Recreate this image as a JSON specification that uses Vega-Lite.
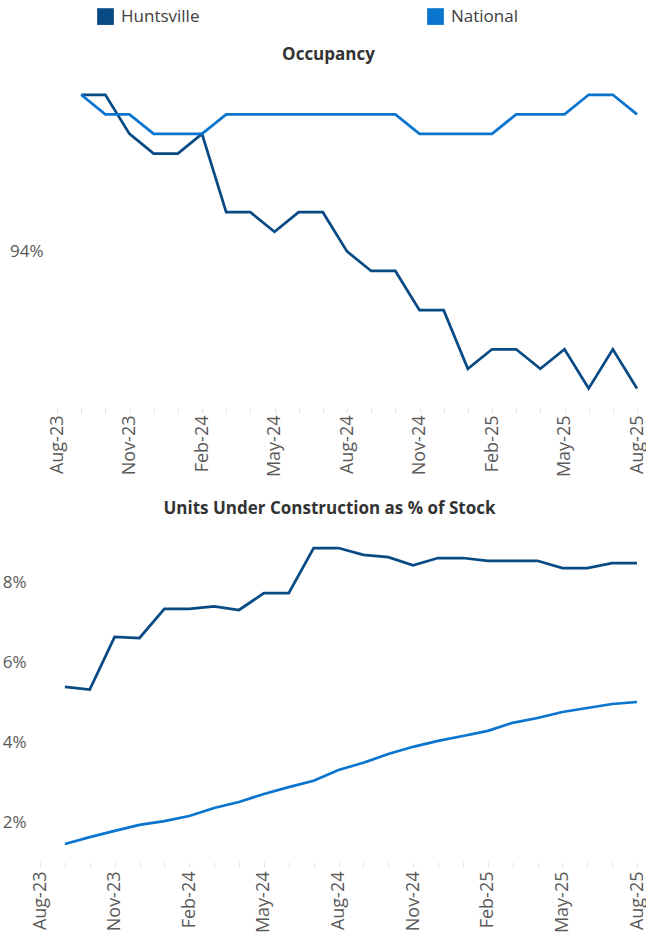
{
  "$schema": "https://vega.github.io/schema/vega-lite/v6.json",
  "background": "white",
  "padding": {"left": 2, "top": 8, "right": 0, "bottom": 0},
  "bounds": "flush",
  "spacing": 134,
  "config": {
    "font": "Open Sans",
    "view": {"stroke": null},
    "axis": {"grid": false, "domain": false, "labelFont": "Open Sans", "labelFontSize": 17, "labelColor": "#595959"},
    "title": {"font": "Open Sans", "fontSize": 17, "fontWeight": "bold", "color": "#333333"}
  },
  "datasets": {
    "occ": [
      {"month": "Sep-23", "market": "Huntsville", "value": 94.8},
      {"month": "Oct-23", "market": "Huntsville", "value": 94.8},
      {"month": "Nov-23", "market": "Huntsville", "value": 94.6},
      {"month": "Dec-23", "market": "Huntsville", "value": 94.5},
      {"month": "Jan-24", "market": "Huntsville", "value": 94.5},
      {"month": "Feb-24", "market": "Huntsville", "value": 94.6},
      {"month": "Mar-24", "market": "Huntsville", "value": 94.2},
      {"month": "Apr-24", "market": "Huntsville", "value": 94.2},
      {"month": "May-24", "market": "Huntsville", "value": 94.1},
      {"month": "Jun-24", "market": "Huntsville", "value": 94.2},
      {"month": "Jul-24", "market": "Huntsville", "value": 94.2},
      {"month": "Aug-24", "market": "Huntsville", "value": 94.0},
      {"month": "Sep-24", "market": "Huntsville", "value": 93.9},
      {"month": "Oct-24", "market": "Huntsville", "value": 93.9},
      {"month": "Nov-24", "market": "Huntsville", "value": 93.7},
      {"month": "Dec-24", "market": "Huntsville", "value": 93.7},
      {"month": "Jan-25", "market": "Huntsville", "value": 93.4},
      {"month": "Feb-25", "market": "Huntsville", "value": 93.5},
      {"month": "Mar-25", "market": "Huntsville", "value": 93.5},
      {"month": "Apr-25", "market": "Huntsville", "value": 93.4},
      {"month": "May-25", "market": "Huntsville", "value": 93.5},
      {"month": "Jun-25", "market": "Huntsville", "value": 93.3},
      {"month": "Jul-25", "market": "Huntsville", "value": 93.5},
      {"month": "Aug-25", "market": "Huntsville", "value": 93.3},
      {"month": "Sep-23", "market": "National", "value": 94.8},
      {"month": "Oct-23", "market": "National", "value": 94.7},
      {"month": "Nov-23", "market": "National", "value": 94.7},
      {"month": "Dec-23", "market": "National", "value": 94.6},
      {"month": "Jan-24", "market": "National", "value": 94.6},
      {"month": "Feb-24", "market": "National", "value": 94.6},
      {"month": "Mar-24", "market": "National", "value": 94.7},
      {"month": "Apr-24", "market": "National", "value": 94.7},
      {"month": "May-24", "market": "National", "value": 94.7},
      {"month": "Jun-24", "market": "National", "value": 94.7},
      {"month": "Jul-24", "market": "National", "value": 94.7},
      {"month": "Aug-24", "market": "National", "value": 94.7},
      {"month": "Sep-24", "market": "National", "value": 94.7},
      {"month": "Oct-24", "market": "National", "value": 94.7},
      {"month": "Nov-24", "market": "National", "value": 94.6},
      {"month": "Dec-24", "market": "National", "value": 94.6},
      {"month": "Jan-25", "market": "National", "value": 94.6},
      {"month": "Feb-25", "market": "National", "value": 94.6},
      {"month": "Mar-25", "market": "National", "value": 94.7},
      {"month": "Apr-25", "market": "National", "value": 94.7},
      {"month": "May-25", "market": "National", "value": 94.7},
      {"month": "Jun-25", "market": "National", "value": 94.8},
      {"month": "Jul-25", "market": "National", "value": 94.8},
      {"month": "Aug-25", "market": "National", "value": 94.7}
    ],
    "uc": [
      {"month": "Sep-23", "market": "Huntsville", "value": 5.38},
      {"month": "Oct-23", "market": "Huntsville", "value": 5.31},
      {"month": "Nov-23", "market": "Huntsville", "value": 6.63},
      {"month": "Dec-23", "market": "Huntsville", "value": 6.6},
      {"month": "Jan-24", "market": "Huntsville", "value": 7.33},
      {"month": "Feb-24", "market": "Huntsville", "value": 7.33},
      {"month": "Mar-24", "market": "Huntsville", "value": 7.39},
      {"month": "Apr-24", "market": "Huntsville", "value": 7.3},
      {"month": "May-24", "market": "Huntsville", "value": 7.72},
      {"month": "Jun-24", "market": "Huntsville", "value": 7.72},
      {"month": "Jul-24", "market": "Huntsville", "value": 8.85},
      {"month": "Aug-24", "market": "Huntsville", "value": 8.85},
      {"month": "Sep-24", "market": "Huntsville", "value": 8.68},
      {"month": "Oct-24", "market": "Huntsville", "value": 8.62},
      {"month": "Nov-24", "market": "Huntsville", "value": 8.42},
      {"month": "Dec-24", "market": "Huntsville", "value": 8.6},
      {"month": "Jan-25", "market": "Huntsville", "value": 8.6},
      {"month": "Feb-25", "market": "Huntsville", "value": 8.53},
      {"month": "Mar-25", "market": "Huntsville", "value": 8.53},
      {"month": "Apr-25", "market": "Huntsville", "value": 8.53},
      {"month": "May-25", "market": "Huntsville", "value": 8.35},
      {"month": "Jun-25", "market": "Huntsville", "value": 8.35},
      {"month": "Jul-25", "market": "Huntsville", "value": 8.47},
      {"month": "Aug-25", "market": "Huntsville", "value": 8.47},
      {"month": "Sep-23", "market": "National", "value": 1.45},
      {"month": "Oct-23", "market": "National", "value": 1.62},
      {"month": "Nov-23", "market": "National", "value": 1.78},
      {"month": "Dec-23", "market": "National", "value": 1.93},
      {"month": "Jan-24", "market": "National", "value": 2.02},
      {"month": "Feb-24", "market": "National", "value": 2.15},
      {"month": "Mar-24", "market": "National", "value": 2.35},
      {"month": "Apr-24", "market": "National", "value": 2.5},
      {"month": "May-24", "market": "National", "value": 2.7},
      {"month": "Jun-24", "market": "National", "value": 2.87},
      {"month": "Jul-24", "market": "National", "value": 3.03},
      {"month": "Aug-24", "market": "National", "value": 3.3},
      {"month": "Sep-24", "market": "National", "value": 3.48},
      {"month": "Oct-24", "market": "National", "value": 3.7},
      {"month": "Nov-24", "market": "National", "value": 3.88},
      {"month": "Dec-24", "market": "National", "value": 4.03},
      {"month": "Jan-25", "market": "National", "value": 4.15},
      {"month": "Feb-25", "market": "National", "value": 4.28},
      {"month": "Mar-25", "market": "National", "value": 4.48},
      {"month": "Apr-25", "market": "National", "value": 4.6},
      {"month": "May-25", "market": "National", "value": 4.75},
      {"month": "Jun-25", "market": "National", "value": 4.85},
      {"month": "Jul-25", "market": "National", "value": 4.95},
      {"month": "Aug-25", "market": "National", "value": 5.0}
    ]
  },
  "vconcat": [
    {
      "title": {"text": "Occupancy", "anchor": "middle", "frame": "group", "dx": -10, "offset": 8, "baseline": "alphabetic"},
      "width": 597,
      "height": 323,
      "data": {"name": "occ"},
      "mark": {"type": "line", "strokeWidth": 2.75},
      "encoding": {
        "x": {
          "field": "month", "type": "ordinal",
          "scale": {"type": "point", "padding": 0, "range": [17, 597],
            "domain": ["Aug-23","Sep-23","Oct-23","Nov-23","Dec-23","Jan-24","Feb-24","Mar-24","Apr-24","May-24","Jun-24","Jul-24","Aug-24","Sep-24","Oct-24","Nov-24","Dec-24","Jan-25","Feb-25","Mar-25","Apr-25","May-25","Jun-25","Jul-25","Aug-25"]},
          "axis": {"title": null, "labelAngle": -90, "labelAlign": "right", "labelBaseline": "middle", "labelOverlap": false, "tickColor": "#e3e3e3", "tickSize": 5, "labelPadding": 2, "labelFontSize": 18,
            "labelExpr": "(slice(datum.value,0,3) == 'Aug' || slice(datum.value,0,3) == 'Nov' || slice(datum.value,0,3) == 'Feb' || slice(datum.value,0,3) == 'May') ? datum.value : ''"}
        },
        "y": {
          "field": "value", "type": "quantitative",
          "scale": {"domain": [93.2, 94.85], "zero": false, "nice": false},
          "axis": {"title": null, "values": [94], "labelExpr": "datum.value + '%'", "ticks": false, "labelPadding": 14, "offset": -17}
        },
        "color": {
          "field": "market", "type": "nominal",
          "scale": {"domain": ["Huntsville", "National"], "range": ["#084A83", "#0A75CF"]},
          "legend": {"orient": "none", "legendX": 57, "legendY": -77, "direction": "horizontal", "title": null,
            "symbolType": "square", "symbolSize": 280, "symbolStrokeWidth": 0, "labelFontSize": 17, "labelColor": "#404040", "labelFont": "Open Sans",
            "columnPadding": 227, "labelOffset": 7,
            "encode": {"symbols": {"update": {"fill": {"scale": "color", "field": "value"}, "opacity": {"value": 1}}}}}
        }
      }
    },
    {
      "title": {"text": "Units Under Construction as % of Stock", "anchor": "middle", "frame": "group", "dx": -9, "offset": 11, "baseline": "alphabetic"},
      "width": 597,
      "height": 320,
      "data": {"name": "uc"},
      "mark": {"type": "line", "strokeWidth": 2.75},
      "encoding": {
        "x": {
          "field": "month", "type": "ordinal",
          "scale": {"type": "point", "padding": 0,
            "domain": ["Aug-23","Sep-23","Oct-23","Nov-23","Dec-23","Jan-24","Feb-24","Mar-24","Apr-24","May-24","Jun-24","Jul-24","Aug-24","Sep-24","Oct-24","Nov-24","Dec-24","Jan-25","Feb-25","Mar-25","Apr-25","May-25","Jun-25","Jul-25","Aug-25"]},
          "axis": {"title": null, "labelAngle": -90, "labelAlign": "right", "labelBaseline": "middle", "labelOverlap": false, "tickColor": "#e3e3e3", "tickSize": 5, "labelPadding": 4, "labelFontSize": 18,
            "labelExpr": "(slice(datum.value,0,3) == 'Aug' || slice(datum.value,0,3) == 'Nov' || slice(datum.value,0,3) == 'Feb' || slice(datum.value,0,3) == 'May') ? datum.value : ''"}
        },
        "y": {
          "field": "value", "type": "quantitative",
          "scale": {"domain": [1, 9], "zero": false, "nice": false},
          "axis": {"title": null, "values": [2, 4, 6, 8], "labelExpr": "datum.value + '%'", "ticks": false, "labelPadding": 14}
        },
        "color": {"field": "market", "type": "nominal"}
      }
    }
  ]
}
